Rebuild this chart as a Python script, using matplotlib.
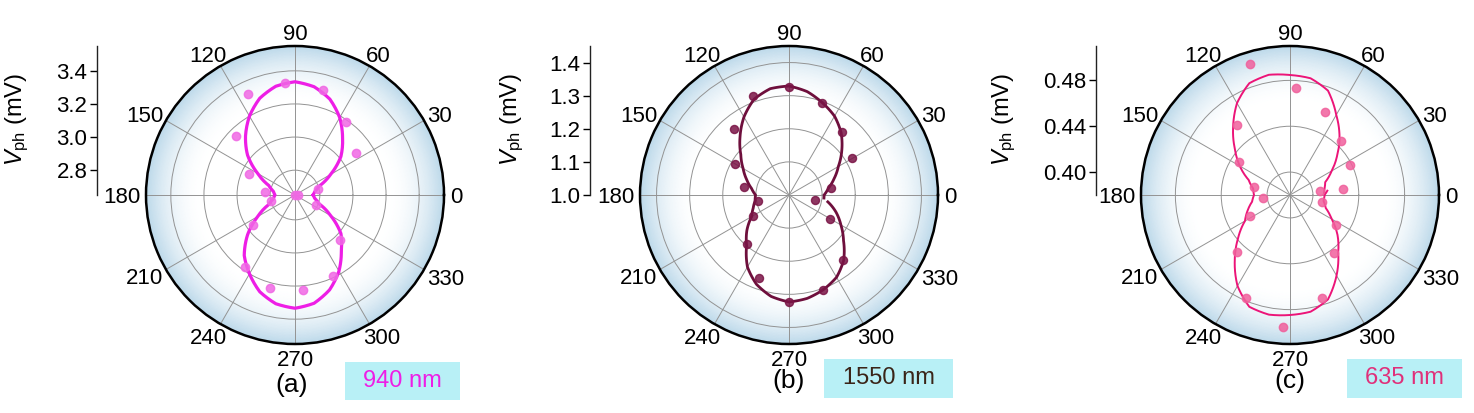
import matplotlib
matplotlib.use("Agg")
import matplotlib.pyplot as plt
import numpy as np
from matplotlib.colors import LinearSegmentedColormap
from matplotlib.patches import Rectangle
from matplotlib.ticker import FixedLocator

plt.rcParams["font.family"] = ["Liberation Sans", "DejaVu Sans"]
plt.rcParams["mathtext.fontset"] = "custom"
plt.rcParams["mathtext.rm"] = "Liberation Sans"
plt.rcParams["mathtext.it"] = "Liberation Sans:italic"

W, H = 1474, 413

# ── Data (angles in degrees, V_ph in mV) ─────────────────────────────────────
# (a) 940 nm
a_dot_ang = [-5, 15, 35, 55, 75, 95, 115, 135, 155, 175, 195, 215, 235, 255,
             275, 295, 315, 335, 355]
a_dot_val = [2.668, 2.793, 3.097, 3.186, 3.304, 3.328, 3.323, 3.155, 2.957,
             2.832, 2.799, 2.962, 3.178, 3.229, 3.225, 3.190, 3.034, 2.787,
             2.653]
a_fit_ang = list(range(0, 361, 10))
a_fit_val = [2.759, 2.771, 2.804, 2.898, 3.012, 3.097, 3.190, 3.266, 3.314,
             3.334, 3.317, 3.272, 3.200, 3.115, 3.024, 2.910, 2.819, 2.783,
             2.771, 2.783, 2.819, 2.910, 3.024, 3.127, 3.200, 3.272, 3.317,
             3.334, 3.314, 3.260, 3.181, 3.085, 3.012, 2.898, 2.804, 2.771,
             2.759]

# (b) 1550 nm
b_dot_ang = [10, 30, 50, 70, 90, 110, 130, 150, 170, 190, 210, 230, 250, 270,
             290, 310, 330, 350]
b_dot_val = [1.130, 1.221, 1.247, 1.295, 1.327, 1.318, 1.259, 1.188, 1.137,
             1.096, 1.127, 1.195, 1.266, 1.324, 1.304, 1.255, 1.144, 1.080]
b_fit_ang = [-5] + list(range(0, 351, 10))
b_fit_val = [1.106, 1.106, 1.121, 1.145, 1.172, 1.208, 1.245, 1.275, 1.296,
             1.317, 1.329, 1.326, 1.308, 1.272, 1.230, 1.190, 1.160, 1.136,
             1.115, 1.101, 1.104, 1.115, 1.130, 1.166, 1.199, 1.251, 1.287,
             1.311, 1.323, 1.317, 1.304, 1.287, 1.257, 1.215, 1.181, 1.151,
             1.119]

# (c) 635 nm
c_dot_ang = [7, 27, 47, 67, 87, 107, 127, 147, 167, 187, 207, 227, 247, 267,
             287, 307, 327, 347, 367]
c_dot_val = [0.4264, 0.4384, 0.4450, 0.4591, 0.4732, 0.4993, 0.4564, 0.4329,
             0.4119, 0.4040, 0.4195, 0.4475, 0.4772, 0.4951, 0.4741, 0.4434,
             0.4279, 0.4086, 0.4064]
c_fit_ang = [2.5] + list(range(10, 361, 10)) + [366.6]
c_fit_val = [0.4097, 0.4105, 0.4127, 0.4219, 0.4337, 0.4472, 0.4607, 0.4769,
             0.4834, 0.4847, 0.4865, 0.4838, 0.4725, 0.4572, 0.4428, 0.4306,
             0.4184, 0.4127, 0.4114, 0.4136, 0.4193, 0.4254, 0.4393, 0.4550,
             0.4716, 0.4838, 0.4860, 0.4847, 0.4834, 0.4769, 0.4612, 0.4454,
             0.4341, 0.4219, 0.4132, 0.4097, 0.4101, 0.4128]

angle_labels = list(range(0, 360, 30))

panels = [
    dict(cx=295, scale_x=97, rlim=(2.65, 3.55), rticks=[2.8, 3.0, 3.2, 3.4],
         rlabels=["2.8", "3.0", "3.2", "3.4"],
         dots=(a_dot_ang, a_dot_val), fit=(a_fit_ang, a_fit_val),
         line="#ee1ee6", dot="#f068e4", lw=2.3, ms=6,
         ylab_x=17, tag="(a)", tag_xy=(292, 385),
         box=(345, 362, 115, 38), wl="940 nm", wl_color="#ee1ee6"),
    dict(cx=789, scale_x=590, rlim=(1.0, 1.45), rticks=[1.1, 1.2, 1.3, 1.4],
         scale_ticks=[1.0, 1.1, 1.2, 1.3, 1.4],
         rlabels=["1.0", "1.1", "1.2", "1.3", "1.4"],
         dots=(b_dot_ang, b_dot_val), fit=(b_fit_ang, b_fit_val),
         line="#6e0f3c", dot="#7a1446", lw=2.0, ms=5.8,
         ylab_x=512, tag="(b)", tag_xy=(789, 381),
         box=(824, 359, 129, 39), wl="1550 nm", wl_color="#3a2418"),
    dict(cx=1290, scale_x=1096, rlim=(0.38, 0.51), rticks=[0.40, 0.44, 0.48],
         rlabels=["0.40", "0.44", "0.48"],
         dots=(c_dot_ang, c_dot_val), fit=(c_fit_ang, c_fit_val),
         line="#ec1478", dot="#f0609c", lw=1.4, ms=6,
         ylab_x=1004, tag="(c)", tag_xy=(1290, 381),
         box=(1347, 359, 115, 39), wl="635 nm", wl_color="#e0307a"),
]

CY, R = 195, 149
FS = 16                     # tick label size (pt)
EM = FS * 100 / 72          # em in pixels
bg_cmap = LinearSegmentedColormap.from_list("rim", ["#ffffff", "#bdd9ea"])

fig = plt.figure(figsize=(W / 100, H / 100), dpi=100)
fig.patch.set_facecolor("white")

def fx(x):
    return x / W

def fy(y):
    return 1 - y / H

for p in panels:
    ax = fig.add_axes([fx(p["cx"] - R), fy(CY + R), 2 * R / W, 2 * R / H],
                      projection="polar")
    r0, r1 = p["rlim"]

    # radial white-to-blue shading toward the rim
    th = np.linspace(0, 2 * np.pi, 181)
    rr = np.linspace(r0, r1, 100)
    T, RR = np.meshgrid(th, rr)
    rho = (RR - r0) / (r1 - r0)
    shade = np.clip((rho - 0.62) / 0.38, 0, 1) ** 2.0
    ax.pcolormesh(T, RR, shade, cmap=bg_cmap, vmin=0, vmax=1,
                  shading="gouraud", rasterized=True, zorder=0)

    ax.set_ylim(r0, r1)
    ax.set_thetagrids(angle_labels, [""] * len(angle_labels))
    ax.set_rgrids(p["rticks"], labels=[""] * len(p["rticks"]))
    ax.xaxis.set_minor_locator(FixedLocator(np.deg2rad(np.arange(0, 360, 15))))
    ax.tick_params(axis="x", which="both", direction="in", length=4,
                   width=1, color="black")
    ax.grid(True, color="#939393", linewidth=0.7)
    ax.spines["polar"].set_linewidth(1.8)
    ax.spines["polar"].set_color("black")

    fa, fv = p["fit"]
    ln, = ax.plot(np.deg2rad(fa), fv, color=p["line"], lw=p["lw"], zorder=4,
                  solid_joinstyle="round")
    ln.get_path()._interpolation_steps = 12
    da, dv = p["dots"]
    ax.plot(np.deg2rad(da), dv, "o", color=p["dot"], ms=p["ms"], alpha=0.85,
            mec=p["dot"], zorder=5, clip_on=False)

    # angle labels placed just outside the rim
    for a in angle_labels:
        t = np.deg2rad(a)
        w = len(str(a)) * 0.556 * EM
        h = 0.72 * EM
        x = p["cx"] + (R + 6) * np.cos(t) + 0.5 * w * np.cos(t)
        y = CY - (R + 6) * np.sin(t) - 0.5 * h * np.sin(t)
        fig.text(fx(x), fy(y), str(a), ha="center", va="center_baseline",
                 fontsize=FS)

    # radial value scale on the left
    sax = fig.add_axes([fx(p["scale_x"]), fy(CY), 0.0005, R / H])
    sax.set_ylim(r0, r1)
    sax.set_yticks(p.get("scale_ticks", p["rticks"]))
    sax.set_yticklabels(p["rlabels"], fontsize=FS)
    sax.set_xticks([])
    for side in ("top", "right", "bottom"):
        sax.spines[side].set_visible(False)
    sax.spines["left"].set_linewidth(1.0)
    sax.spines["left"].set_color("#222222")
    sax.tick_params(axis="y", direction="out", length=5, width=1, pad=2)
    sax.patch.set_alpha(0)

    fig.text(fx(p["ylab_x"]), fy(119), r"$V_{\rm ph}$ (mV)", rotation=90,
             ha="center", va="center", fontsize=17)
    fig.text(fx(p["tag_xy"][0]), fy(p["tag_xy"][1]), p["tag"], ha="center",
             va="center", fontsize=19)

    bx, by, bw, bh = p["box"]
    fig.patches.append(Rectangle((fx(bx), fy(by + bh)), bw / W, bh / H,
                                 transform=fig.transFigure,
                                 facecolor="#b8f0f6", edgecolor="none"))
    fig.text(fx(bx + bw / 2), fy(by + bh / 2), p["wl"], ha="center",
             va="center", fontsize=17, color=p["wl_color"])

fig.savefig("out.png", dpi=100)
